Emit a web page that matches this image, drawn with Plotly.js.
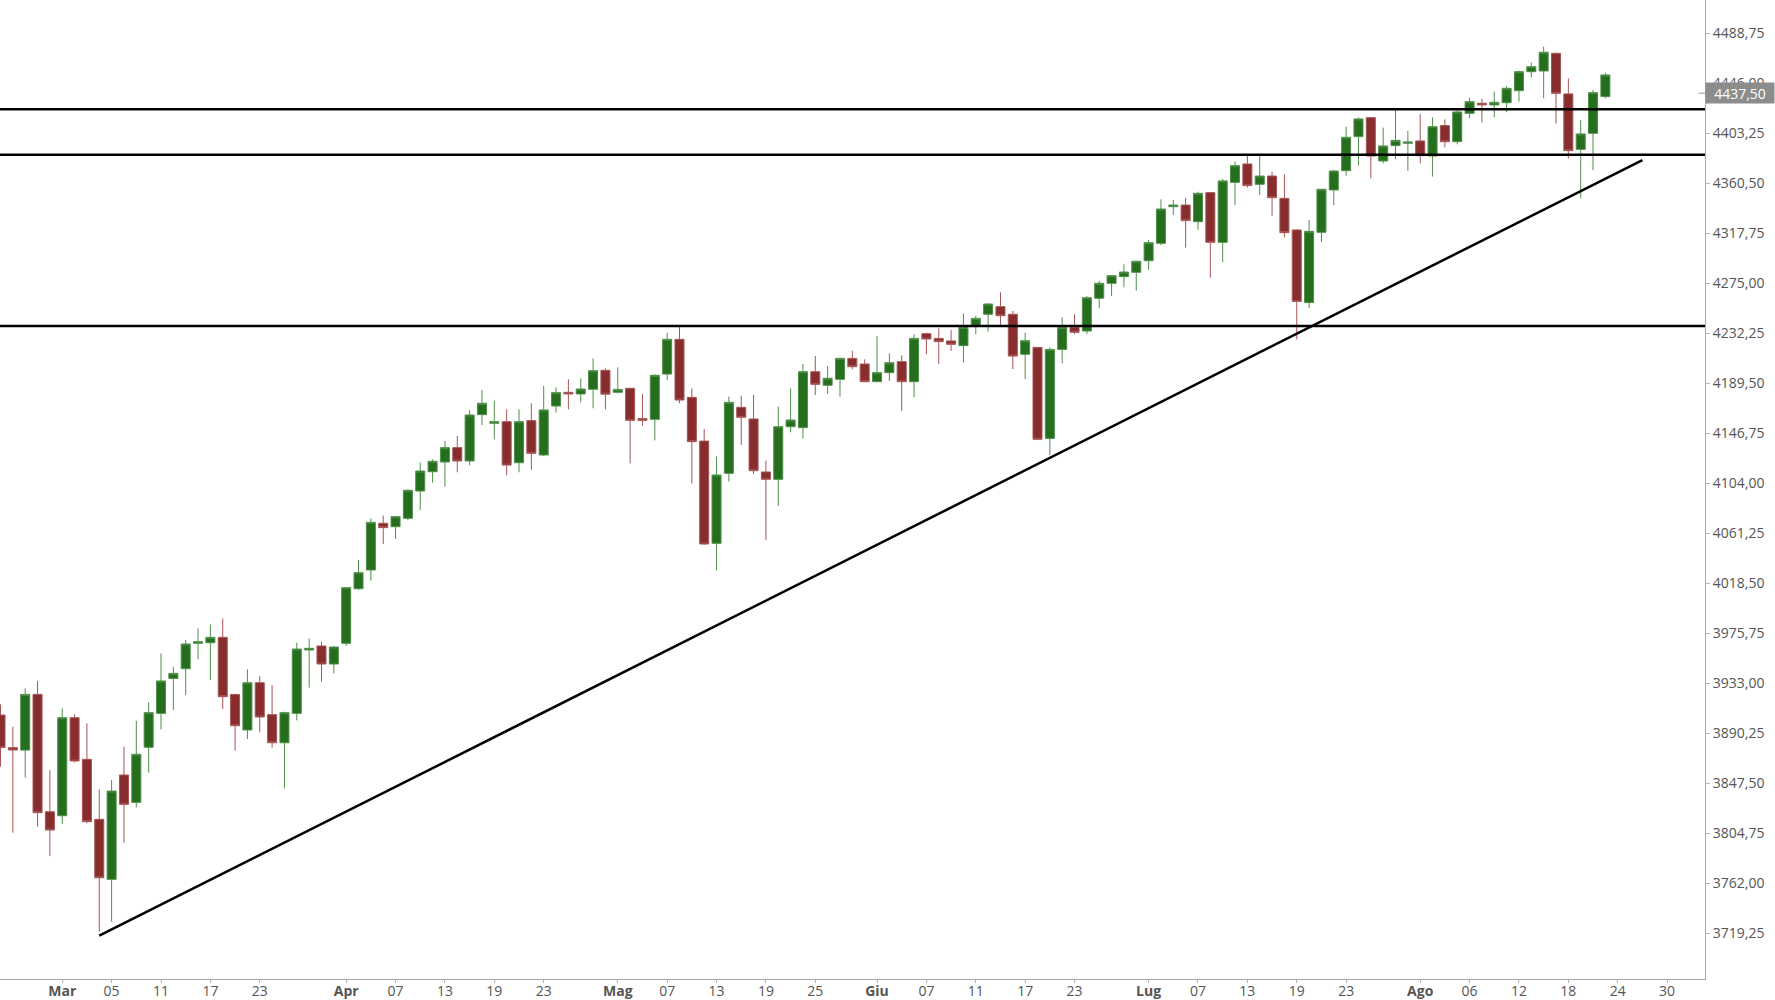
<!DOCTYPE html>
<html>
<head>
<meta charset="utf-8">
<script src="https://cdn.plot.ly/plotly-3.0.1.min.js"></script>
<style>
html,body{margin:0;padding:0;background:#fff;}
#chart{width:1775px;height:1000px;}
</style>
</head>
<body>
<div id="chart"></div>
<script>
// ---- data ----
const dates = [
'2021-02-22','2021-02-23','2021-02-24','2021-02-25','2021-02-26',
'2021-03-01','2021-03-02','2021-03-03','2021-03-04','2021-03-05',
'2021-03-08','2021-03-09','2021-03-10','2021-03-11','2021-03-12',
'2021-03-15','2021-03-16','2021-03-17','2021-03-18','2021-03-19',
'2021-03-22','2021-03-23','2021-03-24','2021-03-25','2021-03-26',
'2021-03-29','2021-03-30','2021-03-31',
'2021-04-01','2021-04-02',
'2021-04-05','2021-04-06','2021-04-07','2021-04-08','2021-04-09',
'2021-04-12','2021-04-13','2021-04-14','2021-04-15','2021-04-16',
'2021-04-19','2021-04-20','2021-04-21','2021-04-22','2021-04-23',
'2021-04-26','2021-04-27','2021-04-28','2021-04-29','2021-04-30',
'2021-05-03','2021-05-04','2021-05-05','2021-05-06','2021-05-07',
'2021-05-10','2021-05-11','2021-05-12','2021-05-13','2021-05-14',
'2021-05-17','2021-05-18','2021-05-19','2021-05-20','2021-05-21',
'2021-05-24','2021-05-25','2021-05-26','2021-05-27','2021-05-28',
'2021-05-31',
'2021-06-01','2021-06-02','2021-06-03','2021-06-04',
'2021-06-07','2021-06-08','2021-06-09','2021-06-10','2021-06-11',
'2021-06-14','2021-06-15','2021-06-16','2021-06-17','2021-06-18',
'2021-06-21','2021-06-22','2021-06-23','2021-06-24','2021-06-25',
'2021-06-28','2021-06-29','2021-06-30',
'2021-07-01','2021-07-02',
'2021-07-05','2021-07-06','2021-07-07','2021-07-08','2021-07-09',
'2021-07-12','2021-07-13','2021-07-14','2021-07-15','2021-07-16',
'2021-07-19','2021-07-20','2021-07-21','2021-07-22','2021-07-23',
'2021-07-26','2021-07-27','2021-07-28','2021-07-29','2021-07-30',
'2021-08-02','2021-08-03','2021-08-04','2021-08-05','2021-08-06',
'2021-08-09','2021-08-10','2021-08-11','2021-08-12','2021-08-13',
'2021-08-16','2021-08-17','2021-08-18','2021-08-19','2021-08-20',
'2021-08-23'
];
const openPrices = [
3905.9,3878.0,3875.9,3923.5,3823.2,
3819.8,3903.6,3868.0,3816.7,3765.4,
3854.6,3831.2,3878.3,3907.3,3937.2,
3945.5,3967.2,3967.7,3972.3,3923.5,
3893.1,3933.5,3906.2,3882.2,3907.3,
3961.5,3964.9,3949.5,
3967.2,4013.9,
4029.9,4069.8,4066.9,4074.1,4097.4,
4113.9,4122.2,4134.5,4123.1,4162.7,
4155.3,4156.7,4121.6,4157.6,4128.2,
4170.1,4181.8,4180.4,4184.4,4200.6,
4181.8,4185.2,4159.3,4158.7,4197.4,
4227.1,4177.5,4140.1,4052.7,4112.5,
4169.0,4159.0,4113.7,4107.4,4152.4,
4151.6,4199.4,4187.8,4192.9,4210.8,
4206.0,
4190.9,4198.6,4208.0,4190.9,
4231.9,4227.9,4225.7,4221.7,4238.8,
4248.5,4255.0,4248.5,4214.3,4220.2,
4142.4,4218.5,4237.3,4234.2,4262.2,
4275.0,4280.7,4284.4,
4294.3,4309.2,
4340.5,4341.9,4327.7,4352.5,4310.0,
4361.3,4377.0,4359.6,4366.7,4347.6,
4320.6,4258.5,4318.6,4354.8,4371.3,
4400.4,4416.6,4379.6,4392.7,4394.7,
4396.7,4383.8,4409.8,4396.1,4420.3,
4428.9,4427.5,4429.4,4439.7,4455.9,
4456.5,4471.6,4436.9,4389.5,4403.2,
4434.6
];
const highPrices = [
3915.0,3895.9,3928.7,3935.0,3858.9,
3911.6,3906.7,3898.8,3842.3,3850.3,
3878.8,3901.0,3916.7,3958.6,3947.2,
3970.0,3980.0,3983.4,3988.5,3924.0,
3944.9,3939.2,3931.5,3908.7,3967.7,
3971.5,3968.6,3964.9,
4015.1,4038.4,
4074.1,4076.3,4076.0,4098.8,4121.9,
4124.5,4140.2,4144.4,4166.7,4183.8,
4174.6,4167.2,4167.2,4172.4,4187.2,
4186.1,4192.9,4193.8,4210.8,4202.3,
4203.2,4185.5,4180.4,4197.2,4232.8,
4237.9,4185.2,4150.4,4126.8,4178.1,
4178.9,4179.5,4123.4,4169.5,4185.2,
4206.0,4212.8,4204.3,4211.4,4217.4,
4210.0,
4229.9,4215.1,4213.5,4231.4,
4232.8,4236.5,4235.1,4249.3,4247.3,
4257.9,4267.3,4251.3,4232.8,4220.5,
4220.0,4245.9,4248.5,4264.1,4277.2,
4282.1,4291.2,4294.3,
4312.0,4346.8,
4346.2,4348.2,4353.3,4353.0,4364.2,
4379.0,4383.9,4383.9,4370.4,4368.2,
4321.0,4329.1,4355.4,4371.9,4408.9,
4416.9,4416.9,4408.1,4423.2,4405.2,
4419.7,4416.9,4415.2,4423.2,4433.7,
4432.6,4438.9,4443.7,4456.8,4463.6,
4477.3,4472.2,4450.2,4414.6,4440.3,
4455.1
];
const lowPrices = [
3861.7,3805.3,3852.3,3810.4,3785.3,
3812.7,3865.4,3813.3,3720.6,3729.2,
3796.7,3826.9,3856.6,3893.6,3910.2,
3923.0,3953.5,3935.8,3911.0,3875.4,
3885.4,3891.1,3878.0,3843.2,3901.3,
3929.3,3934.4,3941.5,
3964.9,4012.8,
4020.8,4052.1,4056.4,4072.6,4081.2,
4104.5,4101.1,4113.4,4119.4,4153.9,
4141.6,4110.8,4113.4,4115.4,4127.3,
4164.4,4167.2,4173.2,4168.1,4167.2,
4180.9,4121.1,4153.3,4140.7,4192.3,
4172.4,4103.9,4051.5,4029.3,4105.4,
4136.7,4111.9,4055.5,4084.6,4147.6,
4142.5,4179.5,4180.4,4178.1,4201.4,
4190.5,
4190.5,4191.5,4165.8,4177.5,
4214.3,4206.0,4217.1,4207.1,4231.4,
4233.7,4239.4,4201.7,4193.2,4141.0,
4128.2,4206.6,4231.4,4231.7,4253.6,
4264.1,4271.6,4268.7,
4286.4,4307.7,
4333.4,4305.5,4320.6,4279.8,4292.9,
4341.9,4356.8,4350.5,4332.8,4314.3,
4226.9,4253.9,4310.0,4341.9,4367.0,
4375.6,4364.7,4377.6,4381.0,4371.0,
4377.6,4366.2,4391.2,4393.8,4416.1,
4412.4,4416.9,4421.2,4430.3,4450.8,
4433.2,4411.8,4381.8,4347.7,4371.9,
4433.2
];
const closePrices = [
3878.0,3876.0,3923.5,3822.4,3807.6,
3903.6,3866.6,3814.7,3766.8,3840.9,
3829.5,3872.3,3907.9,3935.0,3941.5,
3966.6,3968.6,3972.3,3921.6,3896.8,
3933.5,3904.2,3882.2,3907.9,3962.3,
3962.9,3949.5,3964.0,
4014.8,4027.6,
4070.6,4066.1,4075.5,4098.0,4114.5,
4122.8,4134.5,4123.1,4162.4,4172.4,
4156.7,4119.6,4156.7,4129.6,4166.7,
4181.5,4180.4,4184.6,4200.3,4180.2,
4184.3,4157.8,4157.8,4196.3,4227.1,
4175.2,4139.6,4052.1,4111.1,4173.2,
4160.4,4114.8,4107.4,4152.4,4158.1,
4199.4,4188.6,4193.8,4210.8,4203.7,
4190.9,
4198.6,4207.1,4190.9,4227.9,
4227.4,4225.1,4222.8,4237.3,4245.0,
4257.3,4247.3,4212.8,4225.9,4141.6,
4218.5,4237.3,4233.1,4262.7,4275.0,
4281.5,4284.6,4293.8,
4309.7,4338.5,
4341.9,4328.6,4351.9,4310.0,4362.5,
4375.6,4358.5,4366.7,4348.2,4318.3,
4259.5,4319.4,4355.4,4371.0,4399.8,
4415.5,4383.8,4392.4,4397.2,4395.8,
4384.1,4408.9,4396.1,4421.5,4430.3,
4427.5,4429.7,4441.7,4455.9,4460.2,
4472.5,4437.4,4388.4,4402.7,4438.0,
4453.1
];

// horizontal support / resistance levels
const levels = [4423.7, 4384.8, 4238.5];
// rising trendline
const trendDates = ['2021-03-04', '2021-08-26'];
const trendValues = [3717.2, 4380.4];
// current price label
const lastPrice = 4437.50;

// x tick labels (Italian)
const tickDates = [
'2021-03-01','2021-03-05','2021-03-11','2021-03-17','2021-03-23',
'2021-04-01','2021-04-07','2021-04-13','2021-04-19','2021-04-23',
'2021-05-03','2021-05-07','2021-05-13','2021-05-19','2021-05-25',
'2021-06-01','2021-06-07','2021-06-11','2021-06-17','2021-06-23',
'2021-07-01','2021-07-07','2021-07-13','2021-07-19','2021-07-23',
'2021-08-02','2021-08-06','2021-08-12','2021-08-18','2021-08-24','2021-08-30'
];
const tickLabels = [
'<b>Mar</b>','05','11','17','23',
'<b>Apr</b>','07','13','19','23',
'<b>Mag</b>','07','13','19','25',
'<b>Giu</b>','07','11','17','23',
'<b>Lug</b>','07','13','19','23',
'<b>Ago</b>','06','12','18','24','30'
];
// y tick values
const yTicks = [3719.25,3762.00,3804.75,3847.50,3890.25,3933.00,3975.75,4018.50,
4061.25,4104.00,4146.75,4189.50,4232.25,4275.00,4317.75,4360.50,4403.25,4446.00,4488.75];

// ---- chart ----
const mid = d => d + ' 12:00';
const FONT = '"Open Sans", "Noto Sans", sans-serif';

const trace = {
  type: 'candlestick',
  x: dates.map(mid),
  open: openPrices, high: highPrices, low: lowPrices, close: closePrices,
  increasing: {fillcolor: '#256e1e', line: {color: '#4f8f48', width: 1}},
  decreasing: {fillcolor: '#872d2d', line: {color: '#a65555', width: 1}},
  whiskerwidth: 0,
  hoverinfo: 'none',
  showlegend: false
};

const shapes = levels.map(v => ({
  type: 'line', xref: 'paper', yref: 'y', x0: 0, x1: 1, y0: v, y1: v,
  line: {color: '#000', width: 2.5}, layer: 'above'
}));
shapes.push({
  type: 'line', xref: 'x', yref: 'y',
  x0: mid(trendDates[0]), y0: trendValues[0], x1: mid(trendDates[1]), y1: trendValues[1],
  line: {color: '#000', width: 2.5}, layer: 'above'
});
shapes.push({
  type: 'line', xref: 'paper', yref: 'y', x0: 0.9962, x1: 1, y0: lastPrice, y1: lastPrice,
  line: {color: '#999', width: 1}, layer: 'above'
});

const layout = {
  width: 1775, height: 1000,
  margin: {l: 0, r: 70, t: 0, b: 21, pad: 0},
  paper_bgcolor: '#ffffff', plot_bgcolor: '#ffffff',
  separators: ',.',
  showlegend: false,
  boxgap: 0.27, boxgroupgap: 0,
  font: {family: FONT, size: 14, color: '#555'},
  xaxis: {
    type: 'date',
    range: ['2021-02-22 11:00', '2021-09-02 13:40'],
    rangebreaks: [{bounds: ['sat', 'mon']}],
    rangeslider: {visible: false},
    tickmode: 'array', tickvals: tickDates.map(mid), ticktext: tickLabels,
    showgrid: false, zeroline: false,
    showline: true, linecolor: '#a9a9a9', linewidth: 1,
    ticks: 'outside', ticklen: 3, tickcolor: '#b5b5b5', tickwidth: 1,
    ticklabelstandoff: -4,
    tickfont: {family: FONT, size: 14, color: '#555'},
    automargin: false, fixedrange: true
  },
  yaxis: {
    side: 'right',
    range: [3680.2, 4517.2],
    tickmode: 'array', tickvals: yTicks, tickformat: '.2f',
    showgrid: false, zeroline: false,
    showline: true, linecolor: '#a9a9a9', linewidth: 1,
    ticks: 'outside', ticklen: 4, tickcolor: '#b5b5b5', tickwidth: 1,
    tickfont: {family: FONT, size: 14, color: '#555'},
    automargin: false, fixedrange: true
  },
  shapes: shapes,
  annotations: [{
    xref: 'paper', x: 1, xanchor: 'left', yref: 'y', y: lastPrice, yanchor: 'middle',
    text: lastPrice.toFixed(2).replace('.', ','),
    showarrow: false, bgcolor: '#8c8c8c', borderpad: 1,
    width: 66, height: 18, align: 'center',
    font: {family: FONT, size: 14, color: '#ffffff'}
  }]
};

Plotly.newPlot('chart', [trace], layout, {displayModeBar: false, staticPlot: true});
</script>
</body>
</html>
